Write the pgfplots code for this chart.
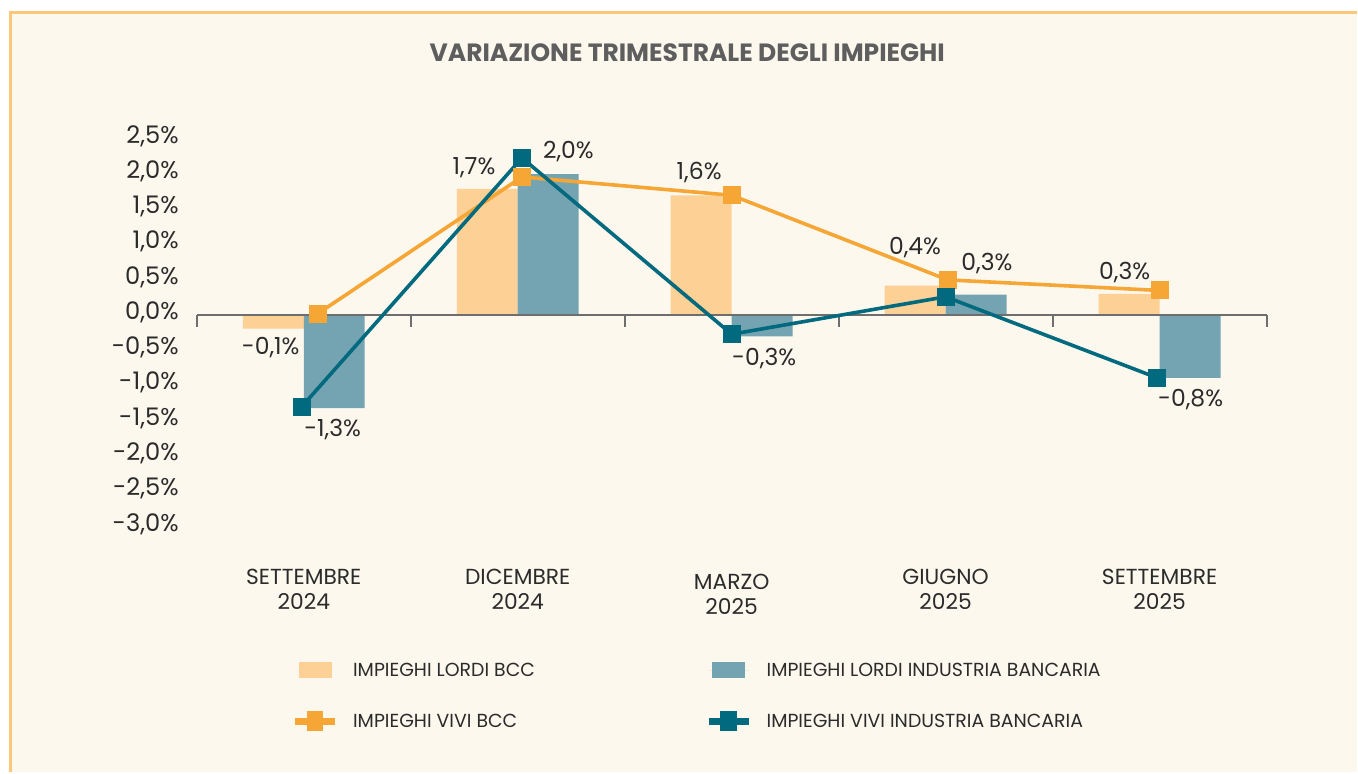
\documentclass[border=0pt]{standalone}
\usepackage{fontspec}
\setmainfont{Poppins}
\usepackage{pgfplots}
\pgfplotsset{compat=1.18}
\definecolor{bg}{HTML}{FDF8EE}
\definecolor{brd}{HTML}{FBC77A}
\definecolor{lbcc}{HTML}{FDD095}
\definecolor{lind}{HTML}{74A3B2}
\definecolor{vbcc}{HTML}{F6A635}
\definecolor{vind}{HTML}{016A7E}
\definecolor{axgray}{HTML}{6E6E6E}
\definecolor{txt}{HTML}{2B2B2B}
\definecolor{ttl}{HTML}{5E5E5E}
\begin{document}
\begin{tikzpicture}[x=1pt,y=1pt]
\fill[white] (0,0) rectangle (1358,773);
\fill[bg] (9,0) rectangle (1358,762);
\draw[brd, line width=3pt] (10.5,0) -- (10.5,760.5) -- (1358,760.5);
\node[font=\bfseries\fontsize{25}{30}\selectfont, text=ttl, inner sep=0pt] at (688,720) {VARIAZIONE TRIMESTRALE DEGLI IMPIEGHI};
\begin{axis}[
  at={(197pt,245.7pt)}, anchor=south west,
  scale only axis, width=1071pt, height=388.3pt,
  xmin=-0.5, xmax=4.5, ymin=-3, ymax=2.5,
  clip=false,
  axis line style={draw=none}, major tick length=0pt,
  xtick={0,1,2,3,4},
  xticklabels={{SETTEMBRE\\2024},{DICEMBRE\\2024},{\rule{0pt}{20.5pt}MARZO\\2025},{GIUGNO\\2025},{SETTEMBRE\\2025}},
  xticklabel style={align=center, anchor=north, inner sep=0pt, yshift=-42pt, font=\fontsize{21.8}{25}\selectfont, text=txt},
  ytick={-3,-2.5,...,2.5},
  /pgf/number format/assume math mode=true,
  yticklabel={\pgfmathprintnumber[fixed,fixed zerofill,precision=1,use comma]{\tick}\%},
  yticklabel style={anchor=base east, inner sep=0pt, xshift=-18pt, yshift=-4.3pt, font=\fontsize{24.2}{28}\selectfont, text=txt},
  legend style={at={(0.0887,-0.438)}, anchor=west, draw=none, fill=none, inner sep=0pt, outer sep=0pt,
    row sep=33pt, font=\fontsize{18.9}{22}\selectfont, text=txt,
    nodes={inner sep=0pt, text height=13pt, text depth=0pt, anchor=west},
    /tikz/every odd column/.append style={column sep=14.5pt},
    /tikz/every even column/.append style={column sep=0pt}},
  legend columns=2,
]
\addplot[ybar, bar width=61pt, bar shift=-30.5pt, fill=lbcc, draw=none,
  legend image code/.code={\path (-3.5pt,0pt) -- (36.5pt,0pt); \fill (0pt,-8pt) rectangle (33pt,8pt);}]
  coordinates {(0,-0.19) (1,1.79) (2,1.70) (3,0.42) (4,0.30)};
\addlegendentry{\makebox[352.5pt][l]{IMPIEGHI LORDI BCC}}
\addplot[ybar, bar width=61pt, bar shift=30.5pt, fill=lind, draw=none,
  legend image code/.code={\path (-3.5pt,0pt) -- (36.5pt,0pt); \fill (0pt,-8pt) rectangle (33pt,8pt);}]
  coordinates {(0,-1.32) (1,2.00) (2,-0.30) (3,0.29) (4,-0.89)};
\addlegendentry{IMPIEGHI LORDI INDUSTRIA BANCARIA}
\draw[axgray, line width=2pt] (axis cs:-0.5,0) -- (axis cs:4.5,0);
\draw[axgray, line width=2pt] (axis cs:-0.5,0) -- ([yshift=-12pt]axis cs:-0.5,0);
\draw[axgray, line width=2pt] (axis cs:0.5,0) -- ([yshift=-12pt]axis cs:0.5,0);
\draw[axgray, line width=2pt] (axis cs:1.5,0) -- ([yshift=-12pt]axis cs:1.5,0);
\draw[axgray, line width=2pt] (axis cs:2.5,0) -- ([yshift=-12pt]axis cs:2.5,0);
\draw[axgray, line width=2pt] (axis cs:3.5,0) -- ([yshift=-12pt]axis cs:3.5,0);
\draw[axgray, line width=2pt] (axis cs:4.5,0) -- ([yshift=-12pt]axis cs:4.5,0);
\addplot[color=vbcc, line width=3.6pt, mark=square*, mark size=8.5pt, mark options={line width=0pt},
  legend image code/.code={\draw[line width=7pt] (-3.5pt,0pt) -- (36.5pt,0pt); \fill (10pt,-8pt) rectangle (23pt,8pt);}]
  coordinates {(0.065,0.02) (1.02,1.96) (2,1.70) (3.01,0.50) (4,0.35)};
\addlegendentry{\makebox[352.5pt][l]{IMPIEGHI VIVI BCC}}
\addplot[color=vind, line width=3.6pt, mark=square*, mark size=8.5pt, mark options={line width=0pt},
  legend image code/.code={\draw[line width=7pt] (-3.5pt,0pt) -- (36.5pt,0pt); \fill (10pt,-8pt) rectangle (23pt,8pt);}]
  coordinates {(-0.01,-1.30) (1.02,2.23) (2,-0.27) (3,0.26) (3.99,-0.89)};
\addlegendentry{IMPIEGHI VIVI INDUSTRIA BANCARIA}
\begin{scope}[every node/.style={anchor=base, inner sep=0pt, font=\fontsize{23.5}{27}\selectfont, text=txt}]
\node at (axis cs:-0.1545,-0.559) {-0,1\%};
\node at (axis cs:0.135,-1.721) {-1,3\%};
\node at (axis cs:0.7955,1.990) {1,7\%};
\node at (axis cs:1.2367,2.227) {2,0\%};
\node at (axis cs:1.848,1.919) {1,6\%};
\node at (axis cs:2.152,-0.715) {-0,3\%};
\node at (axis cs:2.857,0.857) {0,4\%};
\node at (axis cs:3.193,0.635) {0,3\%};
\node at (axis cs:3.837,0.503) {0,3\%};
\node at (axis cs:4.145,-1.292) {-0,8\%};
\end{scope}
\end{axis}
\end{tikzpicture}
\end{document}
